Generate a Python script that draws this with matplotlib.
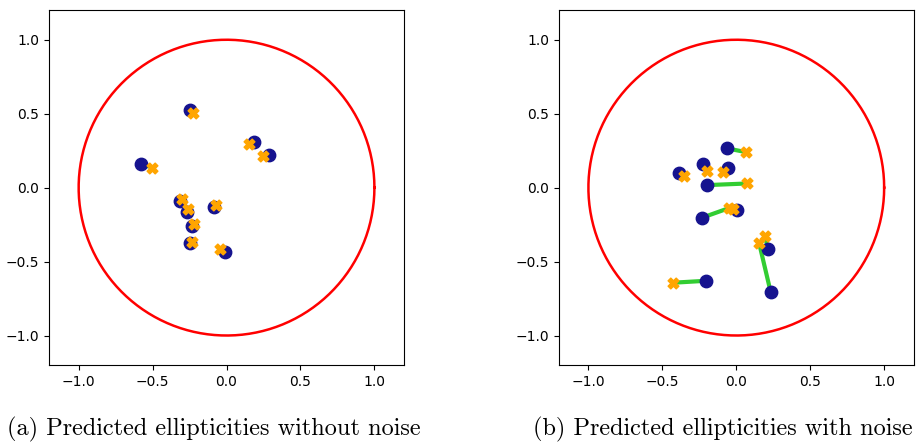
import numpy as np
import matplotlib
matplotlib.use("Agg")
import matplotlib.pyplot as plt

# panel (a): true vs predicted ellipticities, no noise
true_a_e1 = [-0.247, 0.188, 0.287, -0.580, -0.314, -0.269, -0.084, -0.235, -0.247, -0.010]
true_a_e2 = [0.524, 0.309, 0.224, 0.159, -0.089, -0.166, -0.134, -0.260, -0.377, -0.438]
pred_a_e1 = [-0.226, 0.154, 0.245, -0.501, -0.303, -0.262, -0.071, -0.220, -0.231, -0.044]
pred_a_e2 = [0.503, 0.292, 0.215, 0.136, -0.078, -0.145, -0.118, -0.249, -0.366, -0.416]

# panel (b): with noise
true_b_e1 = [-0.060, -0.228, -0.053, -0.386, -0.199, 0.008, -0.233, 0.217, 0.233, -0.206]
true_b_e2 = [0.265, 0.163, 0.136, 0.100, 0.017, -0.152, -0.204, -0.418, -0.708, -0.630]
pred_b_e1 = [0.066, -0.195, -0.089, -0.353, 0.073, -0.020, -0.051, 0.193, 0.154, -0.427]
pred_b_e2 = [0.240, 0.111, 0.103, 0.078, 0.028, -0.145, -0.139, -0.328, -0.373, -0.643]

captions = ["(a) Predicted ellipticities without noise",
            "(b) Predicted ellipticities with noise"]


def draw(ax, te1, te2, pe1, pe2):
    t = np.linspace(0, 2 * np.pi, 400)
    ax.plot(np.cos(t), np.sin(t), color="red", lw=1.8, zorder=1)
    for x0, y0, x1, y1 in zip(te1, te2, pe1, pe2):
        ax.plot([x0, x1], [y0, y1], color="limegreen", lw=3, zorder=2)
    ax.scatter(te1, te2, s=80, color="#16138f", zorder=3)
    ax.scatter(pe1, pe2, s=60, marker="X", color="orange", zorder=4)
    ax.set_xlim(-1.2, 1.2)
    ax.set_ylim(-1.2, 1.2)
    ax.set_aspect("equal")
    ax.set_xticks([-1.0, -0.5, 0.0, 0.5, 1.0])
    ax.set_yticks([-1.0, -0.5, 0.0, 0.5, 1.0])


fig = plt.figure(figsize=(9.16, 4.42), dpi=100)
ax1 = fig.add_axes([0.0535, 0.174, 0.3876, 0.803])
ax2 = fig.add_axes([0.610, 0.174, 0.3876, 0.803])
draw(ax1, true_a_e1, true_a_e2, pred_a_e1, pred_a_e2)
draw(ax2, true_b_e1, true_b_e2, pred_b_e1, pred_b_e2)

fig.text(214 / 916, 1 - 429 / 442, captions[0], family="cmr10", fontsize=17.5,
         ha="center", va="center")
fig.text(723 / 916, 1 - 429 / 442, captions[1], family="cmr10", fontsize=17.5,
         ha="center", va="center")

fig.savefig("out.png", dpi=100)
